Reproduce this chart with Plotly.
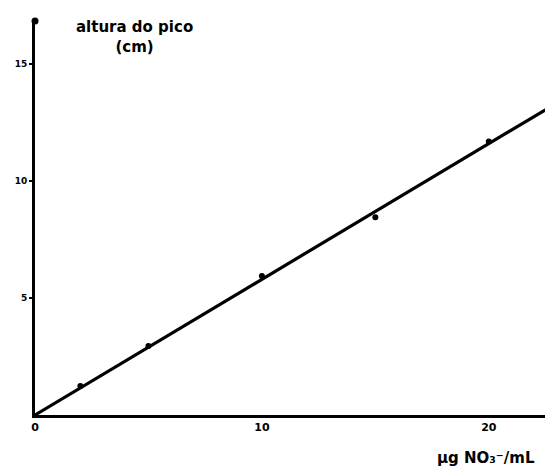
import numpy as np
import plotly.graph_objects as go

# Data
conc = [2, 5, 10, 15, 20]            # µg NO3- / mL
height = [1.24, 2.95, 5.94, 8.46, 11.7]  # altura do pico (cm)
x_ticks = [0, 10, 20]
x_tick_labels = ["0", "10", "20"]
y_ticks = [5, 10, 15]
y_tick_labels = ["5", "10", "15"]
line_x = [0, 23.05]

x_range = [0, 23.05]
y_range = [0, 16.85]

# least-squares line through the origin
xa = np.array(conc, float)
ya = np.array(height, float)
slope = float((xa * ya).sum() / (xa * xa).sum())
line_y = [slope * v for v in line_x]

fig = go.Figure()
fig.add_trace(go.Scatter(x=line_x, y=line_y, mode="lines",
                         line=dict(color="black", width=3.2),
                         hoverinfo="skip", cliponaxis=False))
fig.add_trace(go.Scatter(x=conc, y=height, mode="markers",
                         marker=dict(color="black", size=6), cliponaxis=False))

fig.update_layout(
    width=553, height=468,
    margin=dict(l=27, r=3, t=13, b=61),
    paper_bgcolor="white", plot_bgcolor="white",
    showlegend=False,
    font=dict(family="DejaVu Sans", size=10, color="black"),
)
fig.update_xaxes(range=x_range, showgrid=False, zeroline=False, automargin=False,
                 showline=True, linecolor="black", linewidth=3,
                 tickvals=x_ticks, ticktext=x_tick_labels, ticks="",
                 tickfont=dict(family="DejaVu Sans", size=11, color="black", weight="bold"))
fig.update_yaxes(range=y_range, showgrid=False, zeroline=False, automargin=False,
                 showline=True, linecolor="black", linewidth=3,
                 tickvals=y_ticks, ticktext=y_tick_labels,
                 ticks="outside", ticklen=3, tickwidth=2, tickcolor="black",
                 tickfont=dict(family="DejaVu Sans", size=9, color="black", weight="bold"))

# axis end dots
fig.add_trace(go.Scatter(x=[x_range[1], x_range[0]], y=[y_range[0], y_range[1]],
                         mode="markers", marker=dict(color="black", size=7),
                         cliponaxis=False, hoverinfo="skip"))

fig.add_annotation(text="<b>altura do pico<br>(cm)</b>", xref="paper", yref="paper",
                   x=0.19, y=1.012, xanchor="center", yanchor="top", showarrow=False,
                   font=dict(family="DejaVu Sans", size=15, color="black"))
fig.add_annotation(text="<b>μg NO₃⁻/mL</b>", xref="paper", yref="paper",
                   x=0.96, y=-0.08, xanchor="right", yanchor="top", showarrow=False,
                   font=dict(family="DejaVu Sans", size=15, color="black"))

fig.write_html("out.html")
